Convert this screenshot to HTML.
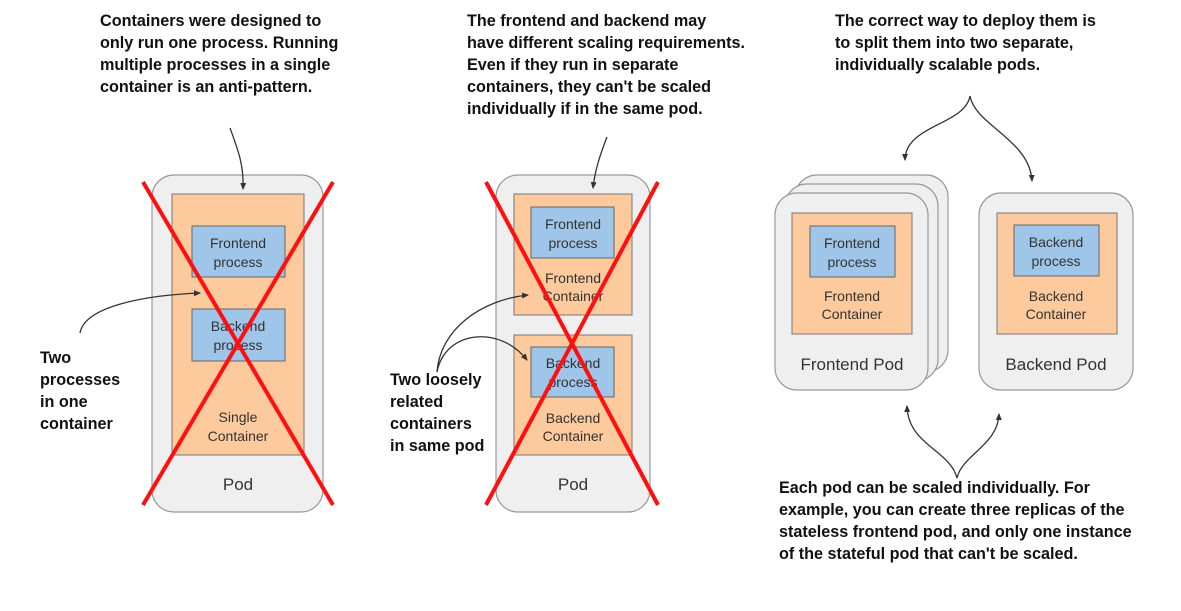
<!DOCTYPE html>
<html><head><meta charset="utf-8"><style>
html,body{margin:0;padding:0;background:#fff;}
svg{display:block;}
.b{font-family:"Liberation Sans",sans-serif;font-weight:bold;font-size:16.2px;fill:#111;}
.n{font-family:"Liberation Sans",sans-serif;font-size:14px;fill:#333;text-anchor:middle;}
.p{font-family:"Liberation Sans",sans-serif;font-size:17px;fill:#333;text-anchor:middle;}
.pod{fill:#efefef;stroke:#999;stroke-width:1.2;}
.c{fill:#fcca9c;stroke:#777;stroke-width:1;}
.pr{fill:#9fc5e8;stroke:#666;stroke-width:1;}
.a{fill:none;stroke:#333;stroke-width:1.3;}
.x{stroke:#ff1010;stroke-width:4;}
</style></head><body>
<svg width="1181" height="611" viewBox="0 0 1181 611">
<defs><marker id="ah" markerWidth="8" markerHeight="8" refX="6" refY="4" orient="auto" markerUnits="userSpaceOnUse"><path d="M0,1 L7,4 L0,7 z" fill="#333"/></marker></defs>

<text class="b" x="100" y="26">Containers were designed to</text>
<text class="b" x="100" y="48">only run one process. Running</text>
<text class="b" x="100" y="70">multiple processes in a single</text>
<text class="b" x="100" y="92">container is an anti-pattern.</text>

<text class="b" x="467" y="26">The frontend and backend may</text>
<text class="b" x="467" y="48">have different scaling requirements.</text>
<text class="b" x="467" y="70">Even if they run in separate</text>
<text class="b" x="467" y="92">containers, they can't be scaled</text>
<text class="b" x="467" y="114">individually if in the same pod.</text>

<text class="b" x="835" y="26">The correct way to deploy them is</text>
<text class="b" x="835" y="48">to split them into two separate,</text>
<text class="b" x="835" y="70">individually scalable pods.</text>

<text class="b" x="779" y="493">Each pod can be scaled individually. For</text>
<text class="b" x="779" y="515">example, you can create three replicas of the</text>
<text class="b" x="779" y="537">stateless frontend pod, and only one instance</text>
<text class="b" x="779" y="559">of the stateful pod that can't be scaled.</text>

<text class="b" x="40" y="363">Two</text>
<text class="b" x="40" y="385">processes</text>
<text class="b" x="40" y="407">in one</text>
<text class="b" x="40" y="429">container</text>

<text class="b" x="390" y="385">Two loosely</text>
<text class="b" x="390" y="407">related</text>
<text class="b" x="390" y="429">containers</text>
<text class="b" x="390" y="451">in same pod</text>

<rect class="pod" x="152" y="175" width="171" height="337" rx="22"/>
<rect class="c" x="172" y="194" width="132" height="261"/>
<rect class="pr" x="192" y="226" width="93" height="51"/>
<text class="n" x="238" y="248">Frontend</text><text class="n" x="238" y="267">process</text>
<rect class="pr" x="192" y="309" width="93" height="52"/>
<text class="n" x="238" y="331">Backend</text><text class="n" x="238" y="350">process</text>
<text class="n" x="238" y="422">Single</text><text class="n" x="238" y="441">Container</text>
<text class="p" x="238" y="490">Pod</text>
<line class="x" x1="143" y1="182" x2="333" y2="505"/>
<line class="x" x1="333" y1="182" x2="143" y2="505"/>

<rect class="pod" x="496" y="175" width="154" height="337" rx="22"/>
<rect class="c" x="514" y="194" width="118" height="121"/>
<rect class="pr" x="531" y="207" width="83" height="51"/>
<text class="n" x="573" y="229">Frontend</text><text class="n" x="573" y="248">process</text>
<text class="n" x="573" y="283">Frontend</text><text class="n" x="573" y="301">Container</text>
<rect class="c" x="514" y="335" width="118" height="120"/>
<rect class="pr" x="531" y="347" width="83" height="50"/>
<text class="n" x="573" y="368">Backend</text><text class="n" x="573" y="387">process</text>
<text class="n" x="573" y="423">Backend</text><text class="n" x="573" y="441">Container</text>
<text class="p" x="573" y="490">Pod</text>
<line class="x" x1="486" y1="182" x2="658" y2="505"/>
<line class="x" x1="658" y1="182" x2="486" y2="505"/>

<rect class="pod" x="795" y="175" width="153" height="197" rx="22"/>
<rect class="pod" x="785" y="184" width="153" height="197" rx="22"/>
<rect class="pod" x="775" y="193" width="153" height="197" rx="22"/>
<rect class="c" x="792" y="213" width="120" height="121"/>
<rect class="pr" x="810" y="226" width="85" height="51"/>
<text class="n" x="852" y="248">Frontend</text><text class="n" x="852" y="267">process</text>
<text class="n" x="852" y="301">Frontend</text><text class="n" x="852" y="319">Container</text>
<text class="p" x="852" y="370">Frontend Pod</text>

<rect class="pod" x="979" y="193" width="154" height="197" rx="22"/>
<rect class="c" x="997" y="213" width="120" height="121"/>
<rect class="pr" x="1014" y="225" width="85" height="51"/>
<text class="n" x="1056" y="247">Backend</text><text class="n" x="1056" y="266">process</text>
<text class="n" x="1056" y="301">Backend</text><text class="n" x="1056" y="319">Container</text>
<text class="p" x="1056" y="370">Backend Pod</text>

<path class="a" marker-end="url(#ah)" d="M230,128 C238,150 244,165 243,189"/>
<path class="a" marker-end="url(#ah)" d="M80,333 C85,305 150,295 200,293"/>
<path class="a" marker-end="url(#ah)" d="M607,137 C600,155 595,170 593,188"/>
<path class="a" marker-end="url(#ah)" d="M437,372 C440,330 480,300 528,295"/>
<path class="a" marker-end="url(#ah)" d="M437,372 C445,330 500,325 527,360"/>
<path class="a" marker-end="url(#ah)" d="M970,96 C965,125 905,125 905,160"/>
<path class="a" marker-end="url(#ah)" d="M970,96 C975,125 1030,140 1032,181"/>
<path class="a" marker-end="url(#ah)" d="M957,478 C950,450 908,445 907,406"/>
<path class="a" marker-end="url(#ah)" d="M957,478 C962,455 998,445 999,414"/>
</svg>
</body></html>
